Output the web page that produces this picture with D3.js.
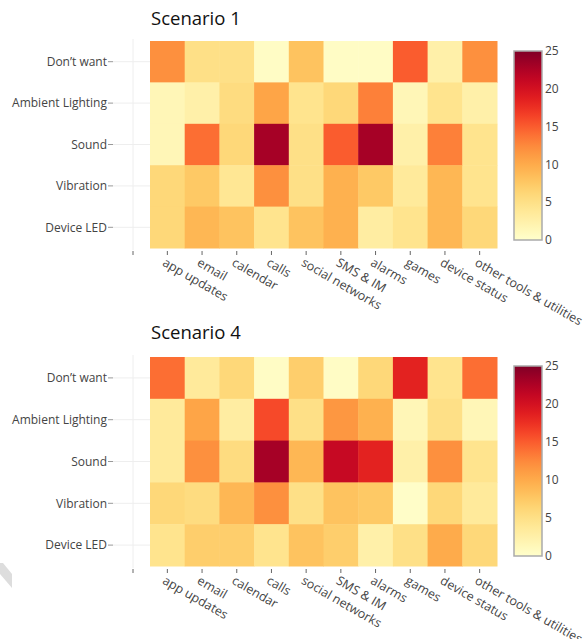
<!DOCTYPE html>
<html lang="en">
<head>
<meta charset="utf-8">
<title>Scenario heatmaps</title>
<script src="https://cdn.jsdelivr.net/npm/d3@7"></script>
<style>
  body { margin: 0; background: #fff; }
  svg { display: block; font-family: "Open Sans", "Noto Sans", sans-serif; }
  .tick-label { fill: #444; font-size: 12px; }
  .x-label { fill: #444; font-size: 12.5px; }
  .title { fill: #111; font-size: 18.5px; }
</style>
</head>
<body>
<div id="chart"></div>
<script>
// apps on the x axis, notification channels on the y axis
var categories = ["app updates", "email", "calendar", "calls", "social networks",
                  "SMS & IM", "alarms", "games", "device status", "other tools & utilities"];
var channels = ["Don\u2019t want", "Ambient Lighting", "Sound", "Vibration", "Device LED"];

// one row per channel, one value per category
var scenario1 = [
  [12,  5,   5,   0.5, 8,   0.5, 0.5, 15,  2.5, 12],
  [1.5, 2.5, 5.5, 10.5, 4.5, 6,  13,  1.5, 4.5, 2.5],
  [1.5, 14,  6,   23,  5,   15,  23,  2.5, 13,  4.5],
  [6,   7.5, 4,   12,  5,   9.5, 7.5, 3.5, 9,   4.5],
  [6,   9,   8,   4.5, 8,   9.5, 3,   4.5, 9,   6]
];
var scenario4 = [
  [14,  3.5, 6,   0.5, 7,   0.5, 6,   18.5, 4.5, 14],
  [3.5, 10.5, 3,  16,  5,   11.5, 9.5, 1.5, 5,   1.5],
  [3.5, 12,  5.5, 23,  9,   21,  18.5, 2.5, 12,  4.5],
  [6,   5.5, 9,   12,  5,   8,   7.5, 0.3, 6,   3.5],
  [4.5, 7,   7,   4.5, 8,   7,   2.5, 5,   10,  6]
];
var colorTicks = [0, 5, 10, 15, 20, 25];

var panels = [
  { title: "Scenario 1", values: scenario1, top: 41,  bottom: 248, barTop: 51,  barBottom: 240, titleY: 25 },
  { title: "Scenario 4", values: scenario4, top: 357, bottom: 566, barTop: 366, barBottom: 556, titleY: 339 }
];

var width = 586, height = 639;
var left = 150, right = 497, axisX = 133;

var color = d3.scaleSequential(d3.interpolateYlOrRd).domain([0, 25]);

var svg = d3.select("#chart").append("svg")
  .attr("width", width)
  .attr("height", height);

// gradient for the colour bars (bottom = 0, top = 25)
var grad = svg.append("defs").append("linearGradient")
  .attr("id", "ylorrd")
  .attr("x1", 0).attr("y1", 1).attr("x2", 0).attr("y2", 0);
d3.range(0, 1.0001, 0.05).forEach(function(t) {
  grad.append("stop")
    .attr("offset", t)
    .attr("stop-color", color(t * 25));
});

var x = d3.scaleBand().domain(categories).range([left, right]);

panels.forEach(function(p) {
  var y = d3.scaleBand().domain(channels).range([p.top, p.bottom]);
  var g = svg.append("g");

  g.append("text")
    .attr("class", "title")
    .attr("x", 151)
    .attr("y", p.titleY)
    .text(p.title);

  // faint axis line and grid stubs
  g.append("line")
    .attr("x1", axisX).attr("x2", axisX)
    .attr("y1", p.top - 2).attr("y2", p.bottom + 2)
    .style("stroke", "#eee");
  g.append("line")
    .attr("x1", axisX).attr("x2", axisX)
    .attr("y1", p.bottom + 3).attr("y2", p.bottom + 7)
    .style("stroke", "#666");

  g.selectAll(".grid").data(channels).enter().append("line")
    .attr("x1", 113).attr("x2", left)
    .attr("y1", function(d) { return y(d) + y.bandwidth() / 2; })
    .attr("y2", function(d) { return y(d) + y.bandwidth() / 2; })
    .style("stroke", "#eee");

  // y ticks + labels
  g.selectAll(".ytick").data(channels).enter().append("line")
    .attr("x1", 108).attr("x2", 113)
    .attr("y1", function(d) { return y(d) + y.bandwidth() / 2; })
    .attr("y2", function(d) { return y(d) + y.bandwidth() / 2; })
    .style("stroke", "#999");
  g.selectAll(".ylab").data(channels).enter().append("text")
    .attr("class", "tick-label")
    .attr("x", 107)
    .attr("y", function(d) { return y(d) + y.bandwidth() / 2; })
    .attr("dy", "0.35em")
    .attr("text-anchor", "end")
    .text(function(d) { return d; });

  // cells
  var cells = [];
  p.values.forEach(function(row, i) {
    row.forEach(function(v, j) {
      cells.push({ row: channels[i], col: categories[j], value: v });
    });
  });
  g.selectAll(".cell").data(cells).enter().append("rect")
    .attr("x", function(d) { return x(d.col); })
    .attr("y", function(d) { return y(d.row); })
    .attr("width", x.bandwidth() + 0.5)
    .attr("height", y.bandwidth() + 0.5)
    .attr("fill", function(d) { return color(d.value); });

  // x ticks + rotated labels
  g.selectAll(".xtick").data(categories).enter().append("line")
    .attr("x1", function(d) { return x(d) + x.bandwidth() / 2; })
    .attr("x2", function(d) { return x(d) + x.bandwidth() / 2; })
    .attr("y1", p.bottom + 3).attr("y2", p.bottom + 7)
    .style("stroke", "#666");
  g.selectAll(".xlab").data(categories).enter().append("text")
    .attr("class", "x-label")
    .attr("transform", function(d) {
      return "translate(" + (x(d) + x.bandwidth() / 2 - 1) + "," + (p.bottom + 9) + ") rotate(30)";
    })
    .attr("dy", "0.75em")
    .text(function(d) { return d; });

  // colour bar
  var cy = d3.scaleLinear().domain([0, 25]).range([p.barBottom, p.barTop]);
  g.append("rect")
    .attr("x", 514).attr("y", p.barTop)
    .attr("width", 28).attr("height", p.barBottom - p.barTop)
    .attr("fill", "url(#ylorrd)")
    .style("stroke", "#aaa")
    .style("stroke-width", 1.5);
  g.selectAll(".ctick").data(colorTicks).enter().append("text")
    .attr("class", "tick-label")
    .attr("x", 545)
    .attr("y", function(d) { return cy(d); })
    .attr("dy", "0.35em")
    .text(function(d) { return d; });
});

// grey page-corner mark at the bottom left
svg.append("path")
  .attr("d", "M0,563L3,563L12,574L12,588L0,574Z")
  .attr("fill", "#ddd");
</script>
</body>
</html>
